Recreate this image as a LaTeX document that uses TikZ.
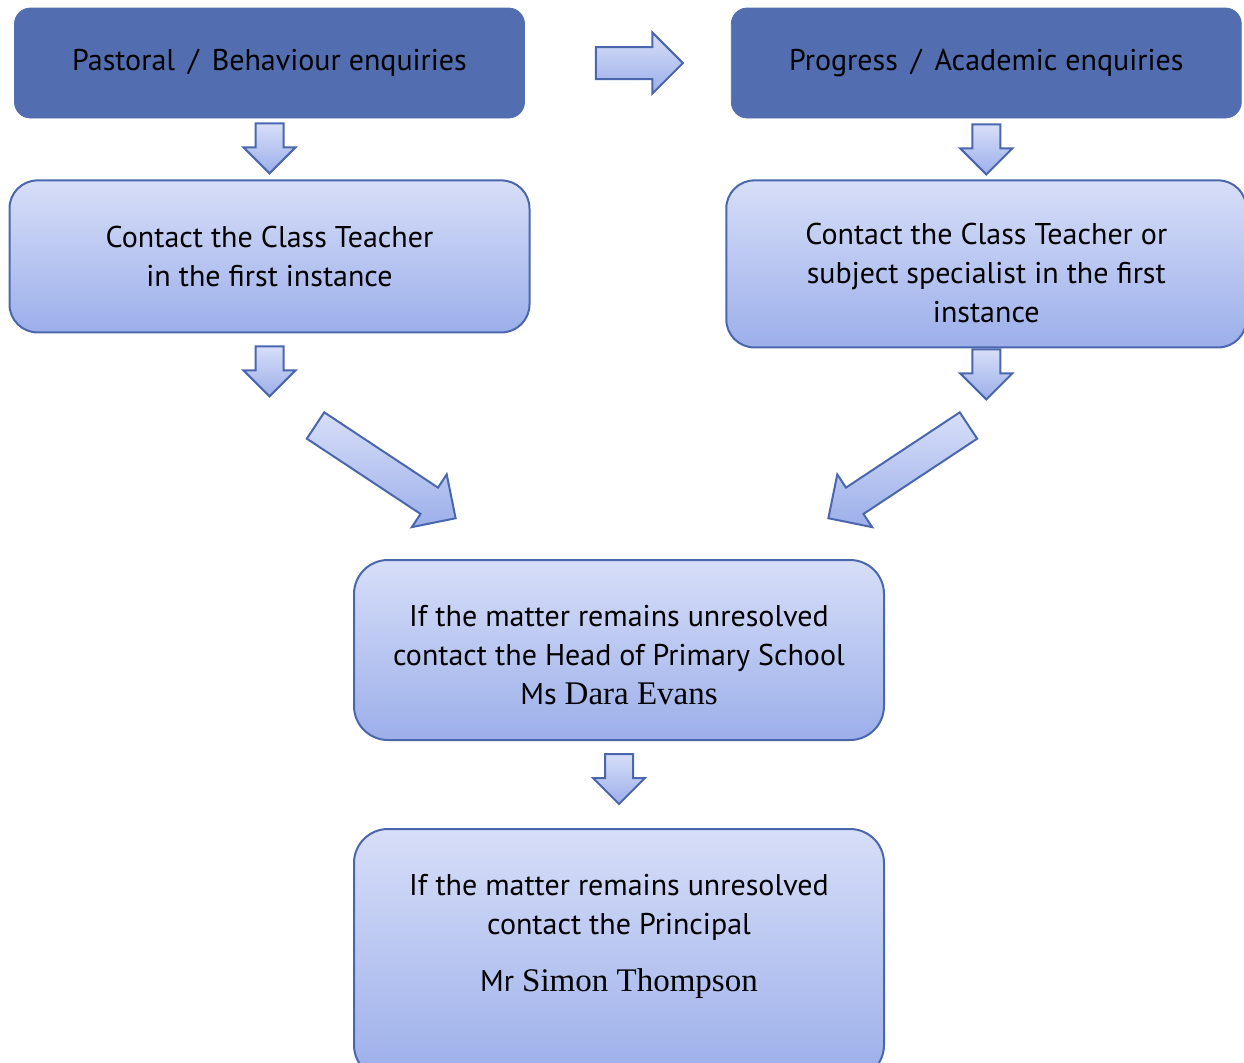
\documentclass[tikz,border=0pt]{standalone}
\usepackage{fontspec}
\setmainfont{PT Sans}
\newfontfamily\namefont{Liberation Serif}
\usetikzlibrary{shapes.arrows,positioning}

\definecolor{boxdark}{HTML}{526EB0}
\definecolor{boxline}{HTML}{4A67AD}
\definecolor{shadetop}{HTML}{D7DEF8}
\definecolor{shadebot}{HTML}{9CAFEA}

\newcommand{\pname}[1]{{\namefont\fontsize{16.5}{19.5}\selectfont #1}}

\tikzset{
  headbox/.style={rectangle, rounded corners=8pt, fill=boxdark, draw=boxdark,
    minimum width=255pt, minimum height=55pt, font=\fontsize{15}{19.5}\selectfont},
  stepbox/.style={rectangle, rounded corners=14pt, draw=boxline, line width=1pt,
    top color=shadetop, bottom color=shadebot, align=center,
    font=\fontsize{15}{19.5}\selectfont},
  blockarrow/.style={single arrow, draw=boxline, line width=1pt,
    top color=shadetop, bottom color=shadebot},
  downarrow/.style={blockarrow, shape border rotate=270, inner sep=6.5pt,
    minimum height=25pt, minimum width=25pt, single arrow head extend=6pt},
  sidearrow/.style={blockarrow, inner sep=7.5pt,
    minimum height=43.5pt, minimum width=29.5pt, single arrow head extend=7.25pt},
  slantarrow/.style={blockarrow, inner sep=7.4pt,
    minimum height=84pt, minimum width=30.5pt, single arrow head extend=7.9pt}
}

\begin{document}
\begin{tikzpicture}[x=0.5pt, y=-0.5pt]
  \useasboundingbox (0,0) rectangle (1244,1062);

  % top row
  \node[headbox] (pastoral) at (269.5,63) {Pastoral\, /\, Behaviour enquiries};
  \node[headbox] (progress) [right=103pt of pastoral] {Progress\, /\, Academic enquiries};
  \node[sidearrow] (across) [right=35pt of pastoral] {};

  % first contact
  \node[stepbox, minimum width=260pt, minimum height=76pt] (teacherL) [below=30.5pt of pastoral]
    {Contact the Class Teacher\\in the first instance};
  \node[stepbox, minimum width=260pt, minimum height=83.5pt] (teacherR) [below=30.5pt of progress]
    {\rule{0pt}{20pt}Contact the Class Teacher or\\subject specialist in the first\\instance};

  \node[downarrow] (downL1) [below=2pt of pastoral] {};
  \node[downarrow] (downR1) [below=2.5pt of progress] {};
  \node[downarrow] (downL2) [below=6pt of teacherL] {};
  \node[downarrow] (downR2) [below=0pt of teacherR] {};

  % join
  \node[slantarrow, rotate=-33.5] (slantL) at (379,467.5) {};
  \node[slantarrow, rotate=213.5] (slantR) at (905,467.5) {};

  % head of school
  \node[stepbox, rounded corners=17pt, minimum width=265pt, minimum height=90pt] (head) at (619,650)
    {\rule{0pt}{16pt}If the matter remains unresolved\\contact the Head of Primary School\\Ms \pname{Dara Evans}};
  \node[downarrow] (downC) [below=6pt of head] {};

  % principal
  \node[stepbox, rounded corners=17pt, minimum width=265pt, minimum height=125pt] (principal)
    [below=43.5pt of head] {};
  \node[align=center, font=\fontsize{15}{19.5}\selectfont] (principaltxt) at (619,936)
    {If the matter remains unresolved\\contact the Principal\\[9pt]Mr \pname{Simon Thompson}};
\end{tikzpicture}
\end{document}
